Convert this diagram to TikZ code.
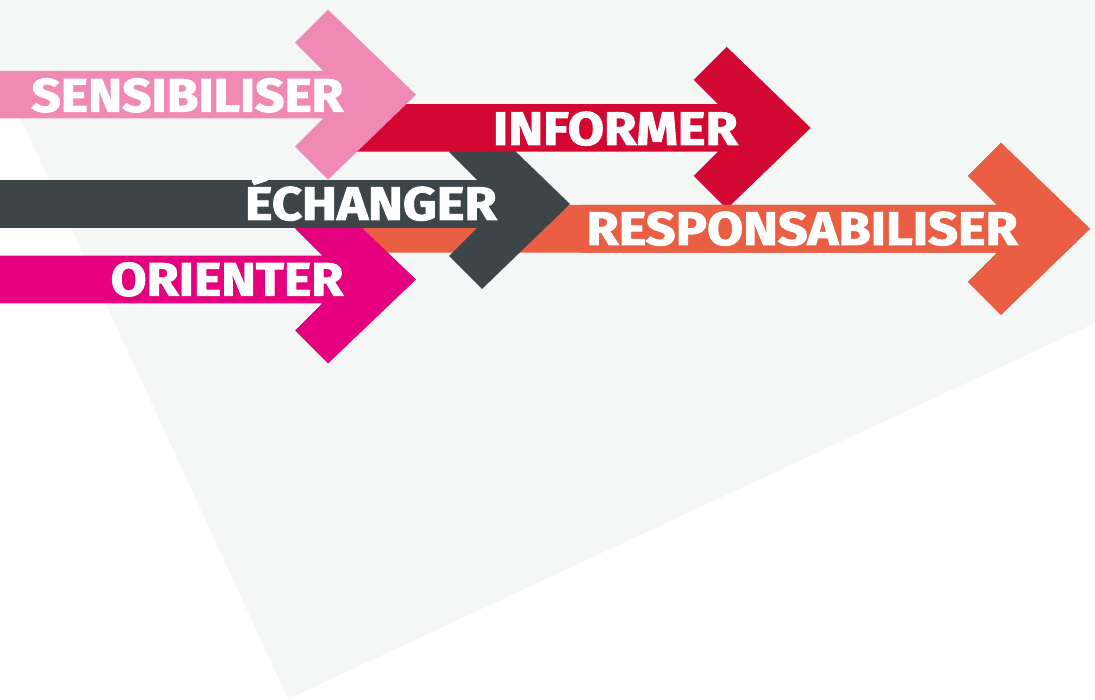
\documentclass[tikz,border=0pt]{standalone}
\usepackage{fontspec}
\setmainfont{Fira Sans}
\newfontfamily\lblfont[FakeBold=2]{Fira Sans Bold}
\definecolor{bgg}{RGB}{245,247,246}
\definecolor{cpink}{RGB}{240,138,181}
\definecolor{cred}{RGB}{210,8,50}
\definecolor{cdark}{RGB}{62,69,72}
\definecolor{corange}{RGB}{234,94,67}
\definecolor{cmag}{RGB}{229,0,126}
% #1 colour, #2 centre y, #3 tip x, #4 start x, #5 head dx, #6 head dy
\newcommand\bandarrow[6]{%
  \fill[#1] ({#4},{#2-23.8}) -- ({#3-#5-33+(#6-33-23.8)},{#2-23.8})
    -- ({#3-#5-33},{#2-#6+33}) -- ({#3-#5},{#2-#6}) -- ({#3},{#2})
    -- ({#3-#5},{#2+#6}) -- ({#3-#5-33},{#2+#6-33})
    -- ({#3-#5-33+(#6-33-23.8)},{#2+23.8}) -- ({#4},{#2+23.8}) -- cycle;}
\newcommand\wide[2]{\scalebox{#1}[1]{#2}}
\tikzset{lbl/.style={text=white,font=\fontsize{47}{47}\lblfont,inner sep=0pt,anchor=base east}}
\begin{document}
\begin{tikzpicture}[x=1pt,y=-1pt]
\useasboundingbox (0,0) rectangle (1095,700);
\fill[white] (0,0) rectangle (1095,700);
\fill[bgg] (0,0) -- (1095,0) -- (1095,323) -- (288,699) -- (0,73) -- cycle;
\bandarrow{corange}{228.8}{1090}{340}{89}{86}
\bandarrow{cmag}{279.5}{416}{0}{88}{84}
\bandarrow{cdark}{204}{570}{0}{88}{85}
\bandarrow{cred}{127.9}{810.7}{340}{84}{81}
\bandarrow{cpink}{94.7}{416}{0}{88}{85}
\begin{scope}
\clip (580,100) rectangle (1095,330);
\bandarrow{corange}{228.8}{1090}{340}{89}{86}
\end{scope}
\node[lbl] (sens) at (343.6,111.7) {\wide{1.096}{SENSIBILISER}};
\node[lbl] (info) at (738,145) {\wide{1.118}{INFORMER}};
\node[lbl] (ech) at (497,220) {\wide{1.118}{ÉCHANGER}};
\node[lbl] (resp) at (1018,245) {\wide{1.113}{RESPONSABILISER}};
\node[lbl] (ori) at (343.6,295.7) {\wide{1.107}{ORIENTER}};
\end{tikzpicture}
\end{document}
